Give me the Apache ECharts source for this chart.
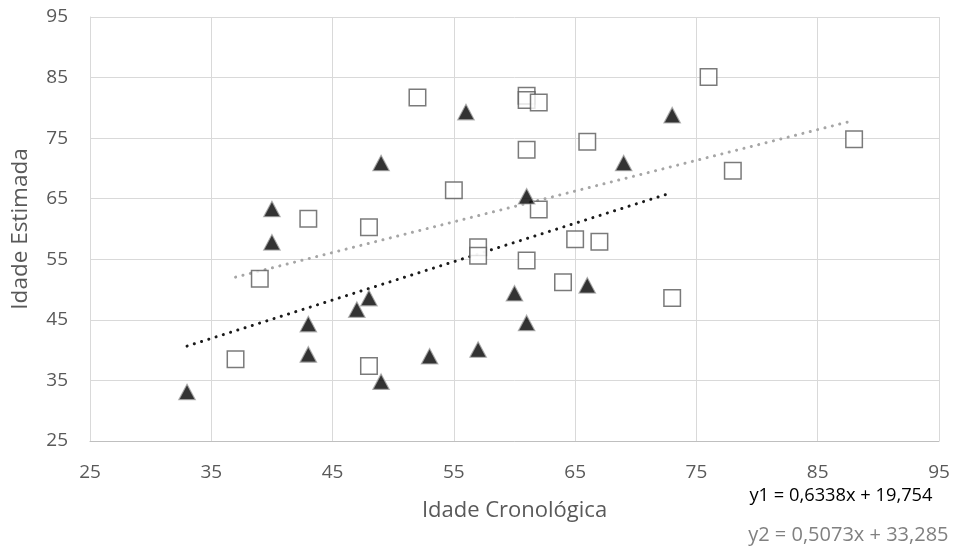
<!DOCTYPE html>
<html><head><meta charset="utf-8">
<script src="https://cdn.jsdelivr.net/npm/echarts@6/dist/echarts.min.js"></script>
<style>html,body{margin:0;padding:0;background:#fff}#c{width:956px;height:552px}</style>
</head><body><div id="c"></div>
<script>
var xTicks = [25, 35, 45, 55, 65, 75, 85, 95];
var yTicks = [25, 35, 45, 55, 65, 75, 85, 95];

var triX = [33, 40, 40, 43, 43, 47, 48, 49, 49, 53, 56, 57, 60, 61, 61, 66, 69, 73];
var triY = [33.1, 63.3, 57.8, 44.3, 39.3, 46.7, 48.6, 70.9, 34.8, 39.0, 79.3, 40.1, 49.4, 65.4, 44.5, 50.7, 70.9, 78.8];

var sqX = [37, 39, 43, 48, 48, 52, 55, 57, 57, 61, 61, 61, 61, 62, 62, 64, 65, 66, 67, 73, 76, 78, 88];
var sqY = [38.5, 51.8, 61.7, 60.3, 37.4, 81.7, 66.4, 57.0, 55.6, 82.0, 81.3, 73.1, 54.8, 80.9, 63.2, 51.2, 58.3, 74.4, 57.9, 48.6, 85.1, 69.6, 74.8];

var slope1 = 0.6338, intercept1 = 19.754;
var slope2 = 0.5073, intercept2 = 33.285;
var eq1 = "y1 = 0,6338x + 19,754";
var eq2 = "y2 = 0,5073x + 33,285";
var xName = "Idade Cronológica";
var yName = "Idade Estimada";

function pairs(xs, ys) { return xs.map(function (x, i) { return [x, ys[i]]; }); }
function trend(xs, m, b) {
  var lo = Math.min.apply(null, xs), hi = Math.max.apply(null, xs);
  return [[lo, m * lo + b], [hi, m * hi + b]];
}

var FONT = "'Open Sans'";
var chart = echarts.init(document.getElementById('c'), null, {renderer: 'canvas'});
chart.setOption({
  animation: false,
  backgroundColor: '#fff',
  textStyle: {fontFamily: FONT},
  grid: {left: 90, right: 17, top: 17, bottom: 111, containLabel: false},
  xAxis: {
    type: 'value', min: xTicks[0], max: xTicks[xTicks.length - 1], interval: 10,
    name: xName, nameLocation: 'middle', nameGap: 59,
    nameTextStyle: {fontSize: 22, color: '#595959', fontFamily: FONT},
    axisLine: {show: true, lineStyle: {color: '#bfbfbf', width: 1}},
    axisTick: {show: false},
    axisLabel: {fontSize: 19, color: '#595959', margin: 22, fontFamily: FONT},
    splitLine: {show: true, lineStyle: {color: '#d9d9d9', width: 1}}
  },
  yAxis: {
    type: 'value', min: yTicks[0], max: yTicks[yTicks.length - 1], interval: 10,
    name: yName, nameLocation: 'middle', nameGap: 58, nameRotate: 90,
    nameTextStyle: {fontSize: 22.5, color: '#595959', fontFamily: FONT},
    axisLine: {show: true, lineStyle: {color: '#d9d9d9', width: 1}},
    axisTick: {show: false},
    axisLabel: {fontSize: 19, color: '#595959', margin: 22, fontFamily: FONT},
    splitLine: {show: true, lineStyle: {color: '#d9d9d9', width: 1}}
  },
  graphic: [
    {type: 'text', x: 932.5, y: 496, style: {text: eq1, fill: '#000', font: '18.3px ' + FONT, align: 'right', verticalAlign: 'middle'}},
    {type: 'text', x: 948.5, y: 535, style: {text: eq2, fill: '#808080', font: '20px ' + FONT, align: 'right', verticalAlign: 'middle'}}
  ],
  series: [
    {
      type: 'line', data: trend(triX, slope1, intercept1), symbol: 'none', z: 2,
      lineStyle: {color: '#1a1a1a', width: 3, type: [0.1, 7.5], cap: 'round'}
    },
    {
      type: 'line', data: trend(sqX, slope2, intercept2), symbol: 'none', z: 2,
      lineStyle: {color: '#a6a6a6', width: 3, type: [0.1, 7.5], cap: 'round'}
    },
    {
      type: 'scatter', data: pairs(sqX, sqY), symbol: 'rect', symbolSize: 16.5, z: 3,
      itemStyle: {color: '#ffffff', borderColor: '#595959', borderWidth: 1.5}
    },
    {
      type: 'scatter', data: pairs(triX, triY), symbol: 'triangle', symbolSize: [16.5, 15.5], z: 4,
      itemStyle: {color: '#000000', borderColor: '#a6a6a6', borderWidth: 1.2}
    }
  ]
});
</script></body></html>
